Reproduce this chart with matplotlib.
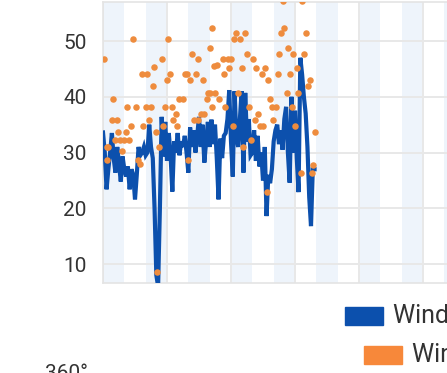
import numpy as np
import matplotlib
matplotlib.use("Agg")
import matplotlib.pyplot as plt
from matplotlib.patches import Rectangle

plt.rcParams['font.family'] = ['Roboto', 'DejaVu Sans']

# hourly wind speed (km/h)
wind_speed = [33.6, 30, 23.4, 27, 30, 33.5, 29, 26.4, 31, 28,
              24.8, 29.3, 27, 25.7, 27.5, 23.4, 27, 26, 21.6, 26,
              31, 29.5, 30, 31, 29.5, 30, 35, 31, 29, 20,
              8, 6, 20, 36.4, 29.3, 35.5, 28.5, 33.5, 29.5, 23,
              32, 30, 33.5, 29.5, 32, 31, 33, 30, 26.4, 34.5,
              31, 34, 30, 33, 36.4, 31, 35, 28.2, 32, 35.5,
              31, 35.9, 31.5, 35, 29, 21.6, 32.5, 29, 33, 33.5,
              36, 41.2, 32, 25.7, 41, 33, 31, 36, 41, 26.4,
              40.7, 32, 36, 29.5, 30, 34, 28.5, 33, 27.5, 30,
              25, 31, 18.6, 26, 24.5, 27, 32, 34, 35, 31.5,
              34, 30.5, 36, 38.2, 30, 24.6, 40, 30, 37.5, 29,
              22.9, 47, 44, 40, 37, 31, 22, 16.8, 27, 27]
speed_hours = np.arange(len(wind_speed))

# wind gusts (km/h)
gust_hours = [0.6, 2.2, 2.8, 2.5, 5, 7.9, 5.6, 6.7, 8.4, 9.6,
              11.8, 12.9, 14.6, 10.7, 13.5, 18.5, 15.7, 16.9, 19.7, 20.8,
              21.9, 24.2, 22.5, 24.7, 25.8, 27, 28.1, 28.7, 29.8, 30.3,
              31.5, 33.1, 33.7, 34.8, 36, 36.5, 37.6, 38.8, 39.3, 41,
              41.6, 42.7, 44.9, 46.1, 47.5, 48, 48.9, 50, 51.1, 52.2,
              53.4, 53.4, 55.1, 56.2, 56.7, 58.4, 59, 60.1, 60.1, 61.2,
              61.2, 62.4, 62.9, 64, 65.2, 67.4, 68, 68.5, 70.2, 70.8,
              71.9, 73, 73.6, 74.7, 75.8, 77, 78.1, 78.7, 79.8, 80.9,
              82, 83.1, 84.3, 85.4, 86, 87.1, 88.2, 89.3, 89.9, 91,
              92.1, 92.7, 93.8, 94.9, 95.5, 97.2, 98.3, 98.9, 100, 101.1,
              101.7, 103.4, 103.9, 105.1, 106.2, 106.7, 107.9, 109, 109.6, 111.2,
              111.8, 112.9, 114, 115.2, 116.3, 117.4, 118, 119.1]
gust_vals = [46.8, 31, 31, 28.7, 35.9, 35.9, 39.6, 32.3, 33.6, 32.3,
             32.3, 33.6, 32.3, 30.2, 38.2, 38.2, 34.8, 50.3, 28.7, 27.9,
             44.1, 38.2, 34.8, 44.1, 35.9, 38.2, 42, 45.4, 33.6, 8.6,
             31, 46.8, 34.8, 38.2, 43, 50.3, 44.1, 38.2, 35.9, 37,
             34.8, 39.6, 39.6, 44.1, 44.1, 28.7, 43, 47.7, 35.9, 44.1,
             46.8, 35.9, 37, 43, 37, 39.6, 40.7, 48.7, 40.7, 52.3,
             38.2, 45.5, 40.7, 45.7, 39.6, 46.8, 44.1, 38.2, 46.8, 45.2,
             46.8, 34.8, 50.3, 51.4, 40.7, 50.3, 45.2, 31, 51.4, 47.7,
             38.2, 32.3, 46.8, 35.9, 45.2, 37, 34.8, 44.1, 34.8, 45.2,
             22.9, 43, 39.6, 38.2, 35.9, 38.2, 44.1, 47.7, 51.4, 57.1,
             52.3, 40.7, 48.7, 44.1, 38.2, 47.7, 34.8, 45.2, 40.7, 26.4,
             57.1, 47.7, 51.4, 42, 43, 26.4, 27.7, 33.6]

yticks = [10, 20, 30, 40, 50]
legend_labels = ["Wind Speed", "Wind Gust", "Wind Direction"]
legend_colors = ["#0c50ad", "#f7883a", "#f6d36b"]

fig = plt.figure(figsize=(4.47, 3.73), dpi=100)
W, H = 447, 373
# plot area runs past the right edge of the crop
ax = fig.add_axes([103 / W, (H - 283) / H, 384 / W, 281 / H])

# day/night shading and grid
for d in range(9):
    ax.axvspan(24 * d, 24 * d + 12, color="#eef4fb", lw=0, zorder=0)
for yv in yticks:
    ax.axhline(yv, color="#e8e8e8", lw=1.4, zorder=1)
for xv in range(0, 217, 36):
    ax.axvline(xv, color="#e8e8e8", lw=1.4, zorder=1)

ax.plot(speed_hours, wind_speed, color="#0c50ad", lw=3.0, zorder=3,
        solid_joinstyle="miter")
ax.scatter(gust_hours, gust_vals, s=22, color="#ee8c3e", lw=0, zorder=4)

ax.set_xlim(0, 216)
ax.set_ylim(6.6, 57)
ax.set_yticks(yticks)
ax.set_xticks([])
ax.tick_params(axis="y", length=0, pad=12, labelsize=15, labelcolor="#333333")
for s in ax.spines.values():
    s.set_color("#e4e4e4")
    s.set_linewidth(1.2)

# legend rows, centred (only partly visible in the crop)
rows = [(345, 307), (364, 346), (364, 385)]
for (x0, y0), lab, col in zip(rows, legend_labels, legend_colors):
    fig.patches.append(Rectangle((x0 / W, 1 - (y0 + 18) / H), 38 / W, 18 / H,
                                 transform=fig.transFigure, color=col))
    fig.text((x0 + 48) / W, 1 - (y0 + 9) / H, lab, fontsize=18,
             color="#333333", va="center", ha="left")

fig.text(45 / W, 1 - 364 / H, "360°", fontsize=15, color="#333333",
         va="top", ha="left")

fig.savefig("out.png", dpi=100)
